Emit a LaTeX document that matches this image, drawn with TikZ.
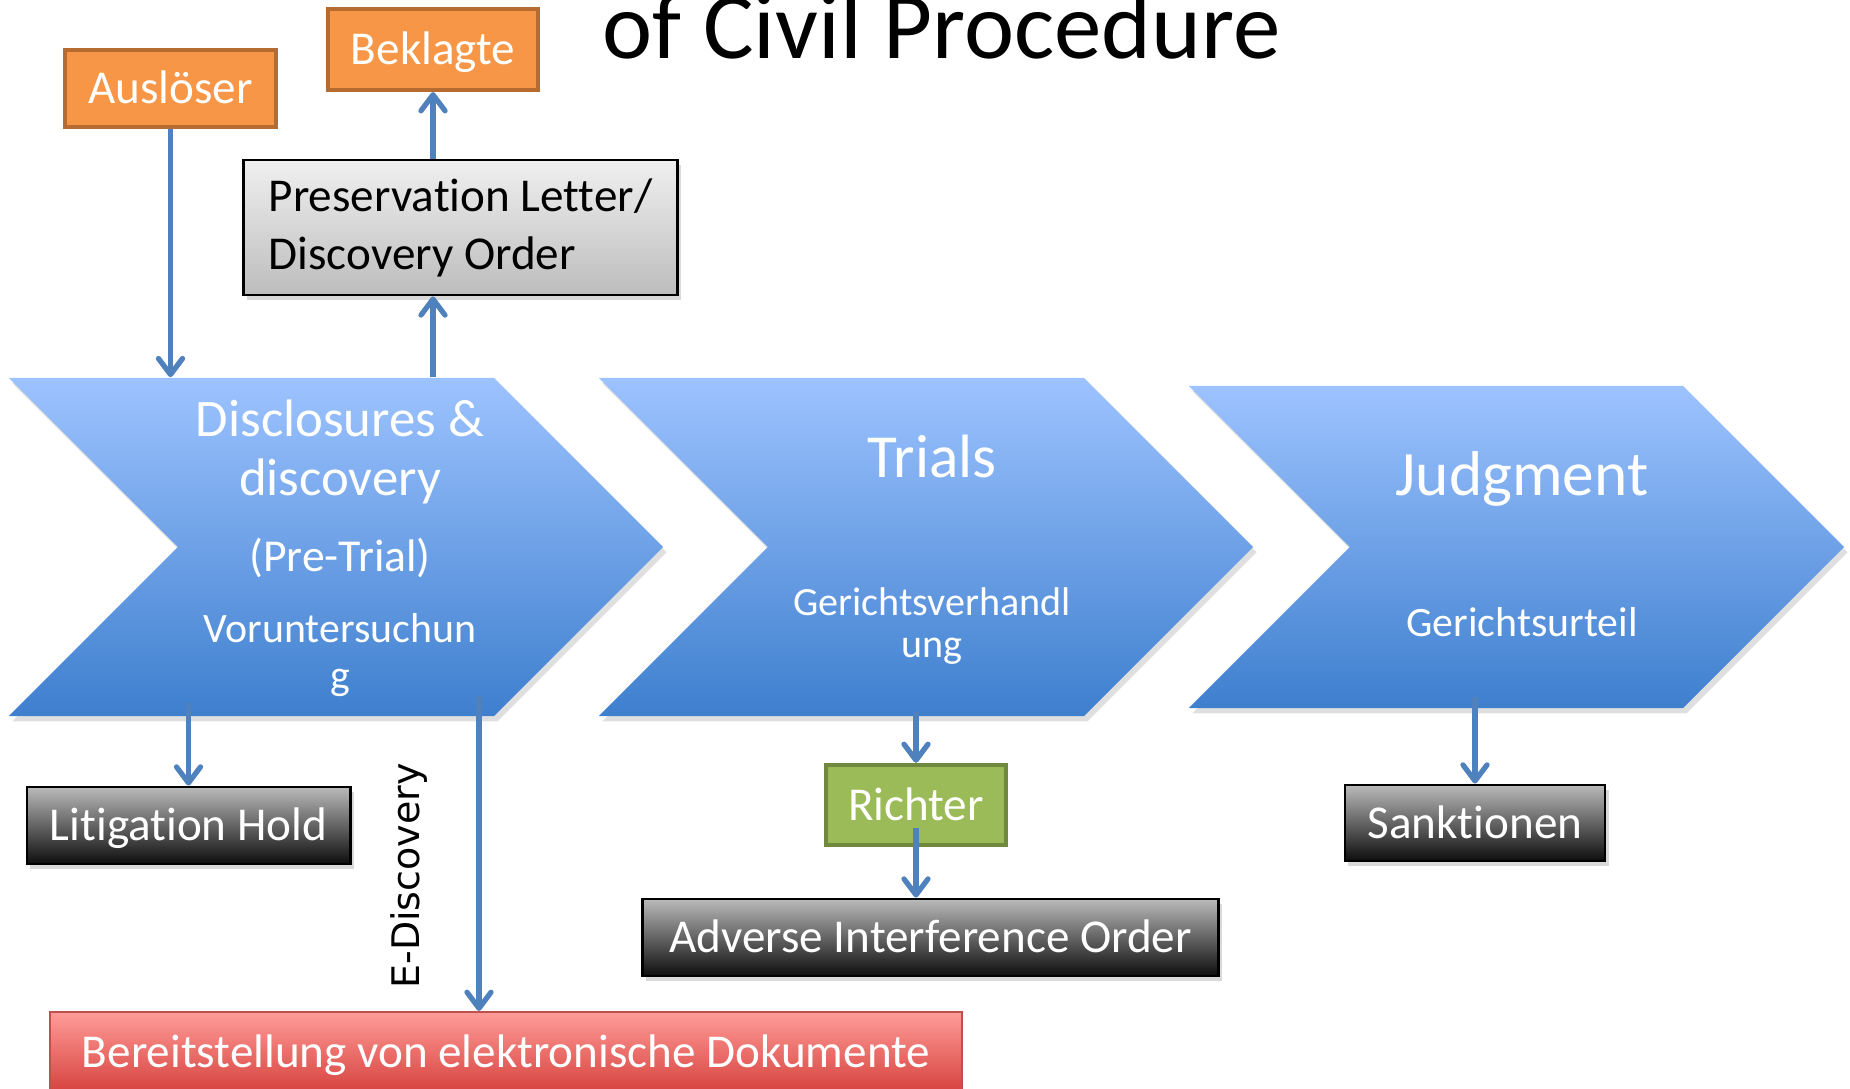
\documentclass[tikz,border=0pt]{standalone}
\usepackage{fontspec}
\setmainfont{Carlito}[Ligatures=NoCommon]
\newfontfamily\edfont{DejaVu Sans}
\usetikzlibrary{arrows.meta,shapes.symbols,shadows,calc}

\definecolor{flowblue}{RGB}{79,129,189}
\definecolor{chevtop}{RGB}{157,195,255}
\definecolor{chevbot}{RGB}{62,127,206}
\definecolor{orangefill}{RGB}{247,150,70}
\definecolor{orangeline}{RGB}{182,107,49}
\definecolor{greenfill}{RGB}{155,187,89}
\definecolor{greenline}{RGB}{113,137,63}
\definecolor{redtop}{RGB}{255,156,152}
\definecolor{redbot}{RGB}{214,66,62}
\definecolor{redline}{RGB}{190,80,77}

\begin{document}
\begin{tikzpicture}[x=0.01cm,y=-0.01cm,
  flow/.style={-{Straight Barb[length=1.6mm,width=2.4mm,round]},line width=1.5pt,draw=flowblue},
  chev/.style={signal,signal from=west,signal to=east,signal pointer angle=90,
    inner sep=0pt,draw=none,top color=chevtop,bottom color=chevbot,
    drop shadow={shadow xshift=1pt,shadow yshift=-1.5pt,opacity=.25}},
  chevtext/.style={anchor=base,inner sep=0pt,text=white},
  boxtext/.style={font=\fontsize{13.4}{16.5}\selectfont,text height=8.6pt,text depth=0pt,inner sep=0pt},
  tagbox/.style={boxtext,draw=orangeline,line width=1.2pt,fill=orangefill,text=white},
  greybox/.style={boxtext,draw=black,line width=0.8pt,top color=black!6,bottom color=black!26,
    drop shadow={shadow xshift=1pt,shadow yshift=-1.5pt,opacity=.3}},
  darkbox/.style={boxtext,draw=black,line width=0.8pt,top color=black!27,bottom color=black!95,text=white,
    drop shadow={shadow xshift=1pt,shadow yshift=-1.5pt,opacity=.3}},
  judgebox/.style={boxtext,draw=greenline,line width=1.2pt,fill=greenfill,text=white},
  docbox/.style={boxtext,draw=redline,line width=0.6pt,top color=redtop,bottom color=redbot,text=white}]
\useasboundingbox (0,0) rectangle (1850,1089);
% title, cut at the top
\node[anchor=base west,inner sep=0pt,font=\fontsize{27}{30}\selectfont] (title) at (602,59) {of Civil Procedure};
% the three stages
\node[chev,minimum width=6.54cm,minimum height=3.38cm] (disc) at (336,547) {};
\node[chev,minimum width=6.54cm,minimum height=3.38cm] (trial) at (926,547) {};
\node[chev,minimum width=6.55cm,minimum height=3.22cm] (judg) at (1516.5,547) {};
% stage texts
\node[chevtext,font=\fontsize{15}{18}\selectfont] (disc1) at (340,437) {Disclosures \&};
\node[chevtext,font=\fontsize{15}{18}\selectfont] (disc2) at (340,496) {discovery};
\node[chevtext,font=\fontsize{13}{16}\selectfont] (disc3) at (340,572) {(Pre-Trial)};
\node[chevtext,font=\fontsize{11.9}{14}\selectfont] (disc4) at (340,643) {Voruntersuchun};
\node[chevtext,font=\fontsize{11.9}{14}\selectfont] (disc5) at (340,690) {g};
\node[chevtext,font=\fontsize{17.4}{20}\selectfont] (trial1) at (932,478) {Trials};
\node[chevtext,font=\fontsize{11.4}{14}\selectfont] (trial2) at (932,616) {Gerichtsverhandl};
\node[chevtext,font=\fontsize{11.4}{14}\selectfont] (trial3) at (932,658) {ung};
\node[chevtext,font=\fontsize{18}{21}\selectfont] (judg1) at (1522,496) {Judgment};
\node[chevtext,font=\fontsize{11.9}{14}\selectfont] (judg2) at (1522,637) {Gerichtsurteil};
% boxes above
\node[tagbox,minimum width=2.11cm,minimum height=0.77cm] (ausl) at (170.5,88.5) {Auslöser};
\node[tagbox,minimum width=2.10cm,minimum height=0.81cm] (bekl) at (433,49.5) {Beklagte};
\node[greybox,minimum width=4.33cm,minimum height=1.35cm,align=left,text height=,text depth=] (pres) at (460.5,227.5) {Preservation Letter/\\Discovery Order};
% boxes below
\node[darkbox,minimum width=3.23cm,minimum height=0.77cm] (lit) at (188.5,825.5) {Litigation Hold};
\node[judgebox,minimum width=1.80cm,minimum height=0.80cm] (richter) at (916,805) {Richter};
\node[darkbox,minimum width=5.75cm,minimum height=0.77cm] (adverse) at (930.5,937.5) {Adverse Interference Order};
\node[darkbox,minimum width=2.60cm,minimum height=0.76cm] (sank) at (1475,823) {Sanktionen};
\node[docbox,minimum width=9.12cm,minimum height=0.80cm] (bereit) at (506,1052) {Bereitstellung von elektronische Dokumente};
\node[rotate=90,inner sep=0pt,font=\edfont\fontsize{10.8}{12}\selectfont] (edlab) at (409,876) {E-Discovery};
% connectors
\coordinate (edtop) at (479,696);
\draw[flow] (ausl.south) -- (ausl.south |- disc.north);
\draw[flow] (bekl.south |- disc.north) -- (bekl.south |- pres.south);
\draw[flow] (bekl.south |- pres.north) -- (bekl.south);
\draw[flow] ($(lit.north |- disc.south)+(0,-14)$) -- (lit.north);
\draw[flow] (edtop) -- (edtop |- bereit.north);
\draw[flow] ($(richter.north |- trial.south)+(0,-5)$) -- (richter.north);
\draw[flow] ($(richter.south)+(0,-19)$) -- (richter.south |- adverse.north);
\draw[flow] ($(sank.north |- judg.south)+(0,-12)$) -- (sank.north);
\end{tikzpicture}
\end{document}
